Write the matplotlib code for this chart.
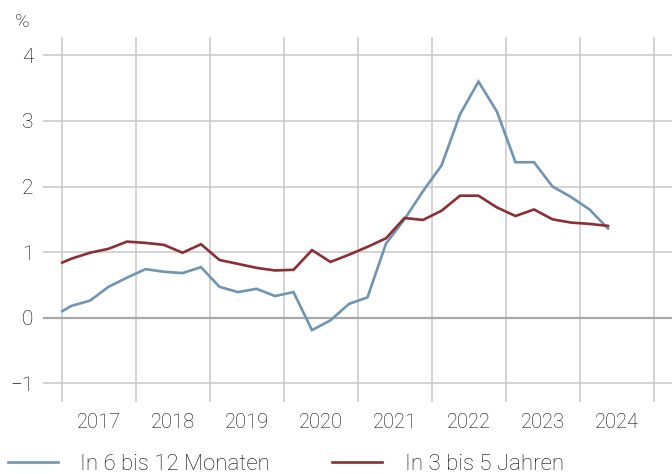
import matplotlib.pyplot as plt
from matplotlib.ticker import FixedLocator, NullFormatter

plt.rcParams['font.family'] = ['Roboto', 'DejaVu Sans']
plt.rcParams['font.weight'] = 'light'

# time axis (fractional years, mid-quarter points)
x = [2017.0, 2017.125, 2017.375, 2017.625, 2017.875,
     2018.125, 2018.375, 2018.625, 2018.875,
     2019.125, 2019.375, 2019.625, 2019.875,
     2020.125, 2020.375, 2020.625, 2020.875,
     2021.125, 2021.375, 2021.625, 2021.875,
     2022.125, 2022.375, 2022.625, 2022.875,
     2023.125, 2023.375, 2023.625, 2023.875,
     2024.125, 2024.375]

short_term = [0.10, 0.18, 0.26, 0.47, 0.61, 0.74, 0.70, 0.68, 0.77,
              0.47, 0.39, 0.44, 0.33, 0.39, -0.19, -0.04, 0.21, 0.31,
              1.13, 1.50, 1.93, 2.32, 3.10, 3.60, 3.14, 2.37, 2.37,
              2.00, 1.84, 1.65, 1.36]

long_term = [0.84, 0.90, 0.99, 1.05, 1.16, 1.14, 1.11, 0.99, 1.12,
             0.88, 0.82, 0.76, 0.72, 0.73, 1.03, 0.85, 0.96, 1.08,
             1.21, 1.52, 1.49, 1.63, 1.86, 1.86, 1.68, 1.55, 1.65,
             1.50, 1.45, 1.43, 1.40]

years = [2017, 2018, 2019, 2020, 2021, 2022, 2023, 2024]
labels = ['In 6 bis 12 Monaten', 'In 3 bis 5 Jahren']
colors = ['#7094b3', '#8a2f33']
txt = '#0a0a0a'

fig = plt.figure(figsize=(6.72, 4.74), dpi=100)
ax = fig.add_axes([0.064, 0.152, 0.936, 0.770])

l1, = ax.plot(x, short_term, color=colors[0], lw=1.9, solid_joinstyle='miter')
l2, = ax.plot(x, long_term, color=colors[1], lw=1.9, solid_joinstyle='miter')

ax.set_xlim(2016.74, 2025.24)
ax.set_ylim(-1.285, 4.28)

# year boundaries as gridlines, year labels centred in between
ax.xaxis.set_major_locator(FixedLocator(years + [2025]))
ax.xaxis.set_major_formatter(NullFormatter())
ax.xaxis.set_minor_locator(FixedLocator([y + 0.5 for y in years]))
ax.set_xticklabels([str(y) for y in years], minor=True)
ax.tick_params(axis='x', which='both', length=0, pad=8, labelsize=14.5, colors=txt)

ax.set_yticks([-1, 0, 1, 2, 3, 4])
ax.set_yticklabels(['\u22121', '0', '1', '2', '3', '4'])
ax.tick_params(axis='y', length=0, pad=7, labelsize=15, colors=txt)

ax.grid(True, which='major', color='#c8c8c8', lw=1.1)
ax.set_axisbelow(True)
ax.axhline(0, color='#a8a8a8', lw=1.6, zorder=1)

for s in ax.spines.values():
    s.set_visible(False)

fig.text(15 / 672, 1 - 22 / 474, '%', fontsize=14, color=txt, va='center')

fig.legend([l1, l2], labels, loc='center left', bbox_to_anchor=(8 / 672, 10 / 474),
           ncol=2, frameon=False, fontsize=16, handlelength=2.25,
           handletextpad=1.0, columnspacing=2.8, labelcolor=txt,
           borderpad=0, borderaxespad=0)

fig.savefig('out.png', dpi=100)
